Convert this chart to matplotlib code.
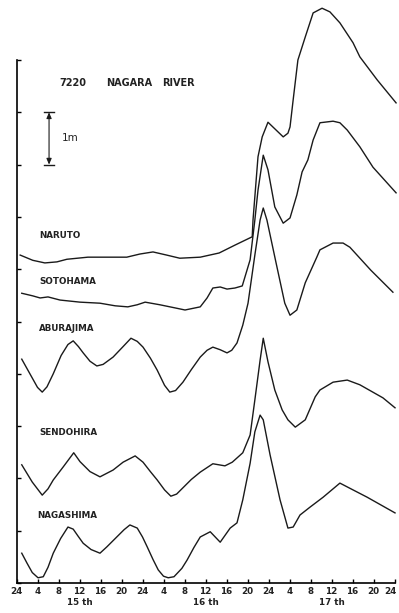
import matplotlib
matplotlib.use("Agg")
import matplotlib.pyplot as plt
import matplotlib.transforms as mtransforms

# Water stage hydrographs, Nagara River flood 7220 (hours from 24h of the 14th, stage in m)
naruto_t = [0.7, 3.1, 5.4, 7.7, 9.6, 13.6, 15.9, 21.0, 23.5, 26.0, 28.6, 31.1, 35.0,
            38.6, 41.6, 44.9, 45.05, 46.0, 46.8, 47.9, 50.8, 51.7, 52.1, 52.7, 53.6,
            55.0, 56.5, 58.2, 59.7, 61.6, 64.1, 65.4, 68.7, 72.3]
naruto_h = [6.27, 6.17, 6.12, 6.14, 6.19, 6.23, 6.23, 6.23, 6.29, 6.33, 6.27, 6.21, 6.23,
            6.31, 6.46, 6.62, 6.94, 8.15, 8.53, 8.81, 8.53, 8.60, 8.72, 9.24, 10.00,
            10.44, 10.90, 10.99, 10.92, 10.71, 10.33, 10.06, 9.62, 9.18]

sotohama_t = [1.0, 3.1, 4.5, 6.0, 8.3, 12.1, 15.9, 18.8, 21.2, 23.0, 24.5, 27.3, 30.2,
              32.1, 35.0, 36.3, 37.4, 38.8, 40.1, 41.6, 43.0, 43.9, 44.5, 45.4, 46.0,
              47.0, 47.9, 49.2, 50.8, 52.1, 53.4, 54.4, 55.5, 56.5, 57.8, 60.3, 61.6,
              63.0, 65.4, 67.9, 72.3]
sotohama_h = [5.54, 5.49, 5.45, 5.47, 5.41, 5.37, 5.35, 5.30, 5.28, 5.32, 5.37, 5.32, 5.26,
              5.22, 5.28, 5.45, 5.64, 5.66, 5.62, 5.64, 5.68, 5.98, 6.18, 6.94, 7.51,
              8.18, 7.90, 7.19, 6.88, 6.98, 7.42, 7.86, 8.09, 8.47, 8.80, 8.83, 8.80,
              8.66, 8.34, 7.95, 7.46]

aburajima_t = [1.0, 2.0, 3.0, 4.0, 4.9, 5.8, 7.0, 8.5, 9.8, 10.8, 11.8, 12.7, 14.0, 15.3,
               16.5, 18.4, 20.3, 21.8, 23.0, 24.1, 25.5, 26.8, 28.2, 29.2, 30.3, 31.7,
               33.3, 35.0, 36.3, 37.4, 38.8, 40.1, 41.0, 42.0, 43.1, 44.1, 45.4, 46.4,
               47.0, 47.7, 49.4, 51.1, 52.1, 53.4, 55.0, 57.2, 57.8, 60.3, 62.2, 63.5,
               67.5, 71.7]
aburajima_h = [4.28, 4.10, 3.92, 3.74, 3.65, 3.75, 4.00, 4.35, 4.56, 4.63, 4.52, 4.40, 4.24,
               4.15, 4.18, 4.32, 4.52, 4.68, 4.62, 4.51, 4.30, 4.07, 3.78, 3.65, 3.68,
               3.84, 4.08, 4.32, 4.45, 4.51, 4.46, 4.40, 4.45, 4.59, 4.93, 5.35, 6.27,
               6.94, 7.17, 6.94, 6.14, 5.35, 5.12, 5.22, 5.74, 6.23, 6.37, 6.50, 6.50,
               6.42, 5.98, 5.56]

sendohira_t = [1.0, 3.0, 4.9, 6.0, 7.0, 8.9, 10.9, 12.1, 14.0, 15.9, 18.4, 20.3, 22.6,
               24.1, 25.5, 26.8, 28.2, 29.4, 30.5, 31.7, 33.3, 35.0, 37.4, 39.7, 41.1,
               43.1, 44.5, 45.4, 46.4, 47.0, 47.9, 49.2, 50.6, 51.7, 53.1, 55.0, 56.9,
               57.8, 60.3, 63.0, 65.4, 69.8, 72.1]
sendohira_h = [2.26, 1.93, 1.68, 1.80, 1.97, 2.22, 2.49, 2.32, 2.13, 2.03, 2.16, 2.31, 2.43,
               2.31, 2.13, 1.97, 1.78, 1.66, 1.70, 1.82, 1.98, 2.12, 2.28, 2.24, 2.31,
               2.49, 2.83, 3.50, 4.26, 4.68, 4.23, 3.69, 3.31, 3.12, 2.98, 3.12, 3.56,
               3.69, 3.84, 3.88, 3.79, 3.54, 3.35]

nagashima_t = [1.0, 2.0, 3.0, 4.1, 5.1, 6.0, 7.0, 8.4, 9.8, 10.8, 11.7, 12.7, 14.2, 15.9,
               17.2, 19.1, 20.5, 21.6, 23.0, 24.0, 24.9, 26.0, 27.0, 28.0, 28.9, 30.0,
               31.5, 32.5, 33.8, 35.0, 36.9, 38.8, 40.7, 42.0, 43.1, 44.5, 45.4, 46.4,
               47.0, 48.3, 50.2, 51.7, 52.7, 54.0, 55.9, 58.4, 61.6, 64.1, 66.8, 72.1]
nagashima_h = [0.57, 0.38, 0.20, 0.10, 0.12, 0.30, 0.57, 0.85, 1.07, 1.03, 0.90, 0.76, 0.64,
               0.57, 0.69, 0.88, 1.02, 1.11, 1.05, 0.88, 0.69, 0.45, 0.25, 0.13, 0.10,
               0.12, 0.28, 0.44, 0.68, 0.88, 0.98, 0.78, 1.05, 1.15, 1.59, 2.29, 2.89,
               3.21, 3.12, 2.45, 1.59, 1.05, 1.07, 1.30, 1.45, 1.64, 1.91, 1.78, 1.64,
               1.34]

stations = ["NARUTO", "SOTOHAMA", "ABURAJIMA", "SENDOHIRA", "NAGASHIMA"]
station_label_pos = [(4.3, 6.65), (4.3, 5.76), (4.3, 4.86), (4.3, 2.87), (3.9, 1.30)]

hour_ticks = list(range(0, 73, 4))
hour_labels = ["24", "4", "8", "12", "16", "20"] * 3 + ["24"]
days = ["15 th", "16 th", "17 th"]
day_centres = [12, 36, 60]

fig = plt.figure(figsize=(3.99, 6.13), dpi=100)
ax = fig.add_axes([16.5 / 399, 30 / 613, (399.75 - 16.5) / 399, 583 / 613])
ax.set_xlim(0, 73)
ax.set_ylim(0, 583 / 52.3)

series = [(naruto_t, naruto_h), (sotohama_t, sotohama_h), (aburajima_t, aburajima_h),
          (sendohira_t, sendohira_h), (nagashima_t, nagashima_h)]
for t, h in series:
    ax.plot(t, h, color="#1a1a1a", lw=1.0, solid_joinstyle="round", clip_on=False)

lab_font = dict(fontsize=6.3, fontweight="bold", color="#222222", family="DejaVu Sans")
for name, (x, y) in zip(stations, station_label_pos):
    ax.text(x, y, name, ha="left", va="center", **lab_font)

title_font = dict(lab_font, fontsize=7.0)
ax.text(8.1, 9.56, "7220", ha="left", va="center", **title_font)
ax.text(17.0, 9.56, "NAGARA", ha="left", va="center", **title_font)
ax.text(27.7, 9.56, "RIVER", ha="left", va="center", **title_font)

# 1 m scale bar
bx = 6.2
ax.plot([bx - 0.9, bx + 0.9], [9, 9], color="#1a1a1a", lw=1.0)
ax.plot([bx - 0.9, bx + 0.9], [8, 8], color="#1a1a1a", lw=1.0)
ax.annotate("", xy=(bx, 9), xytext=(bx, 8),
            arrowprops=dict(arrowstyle="<|-|>,head_length=0.35,head_width=0.15",
                            color="#1a1a1a", lw=0.8, shrinkA=0, shrinkB=0))
ax.text(8.6, 8.5, "1m", ha="left", va="center", fontsize=7.5, color="#222222")

# axes
for s in ("top", "right"):
    ax.spines[s].set_visible(False)
ax.spines["left"].set_bounds(0, 10)
ax.spines["bottom"].set_bounds(0, 72)
ax.spines["left"].set_linewidth(1.2)
ax.spines["bottom"].set_linewidth(1.2)
ax.set_yticks(range(0, 11))
ax.set_yticklabels([])
ax.tick_params(axis="y", direction="in", length=3, width=1.0)
ax.set_xticks(hour_ticks)
ax.set_xticklabels(hour_labels)
ax.set_xticks([0, 24, 48, 72], minor=True)
ax.tick_params(axis="x", which="major", direction="in", length=3, width=1.0,
               pad=3, labelsize=6.3, labelcolor="#222222")
ax.tick_params(axis="x", which="minor", direction="in", length=6, width=1.0)
xlabels = ax.get_xticklabels()
for lbl in xlabels:
    lbl.set_fontweight("bold")
# keep the last hour label inside the figure edge
xlabels[-1].set_transform(xlabels[-1].get_transform() +
                          mtransforms.ScaledTranslation(-3 / 72, 0, fig.dpi_scale_trans))

for d, c in zip(days, day_centres):
    ax.text(c, -0.38, d, ha="center", va="center", clip_on=False, **lab_font)

fig.savefig("out.png", dpi=100, facecolor="white")
